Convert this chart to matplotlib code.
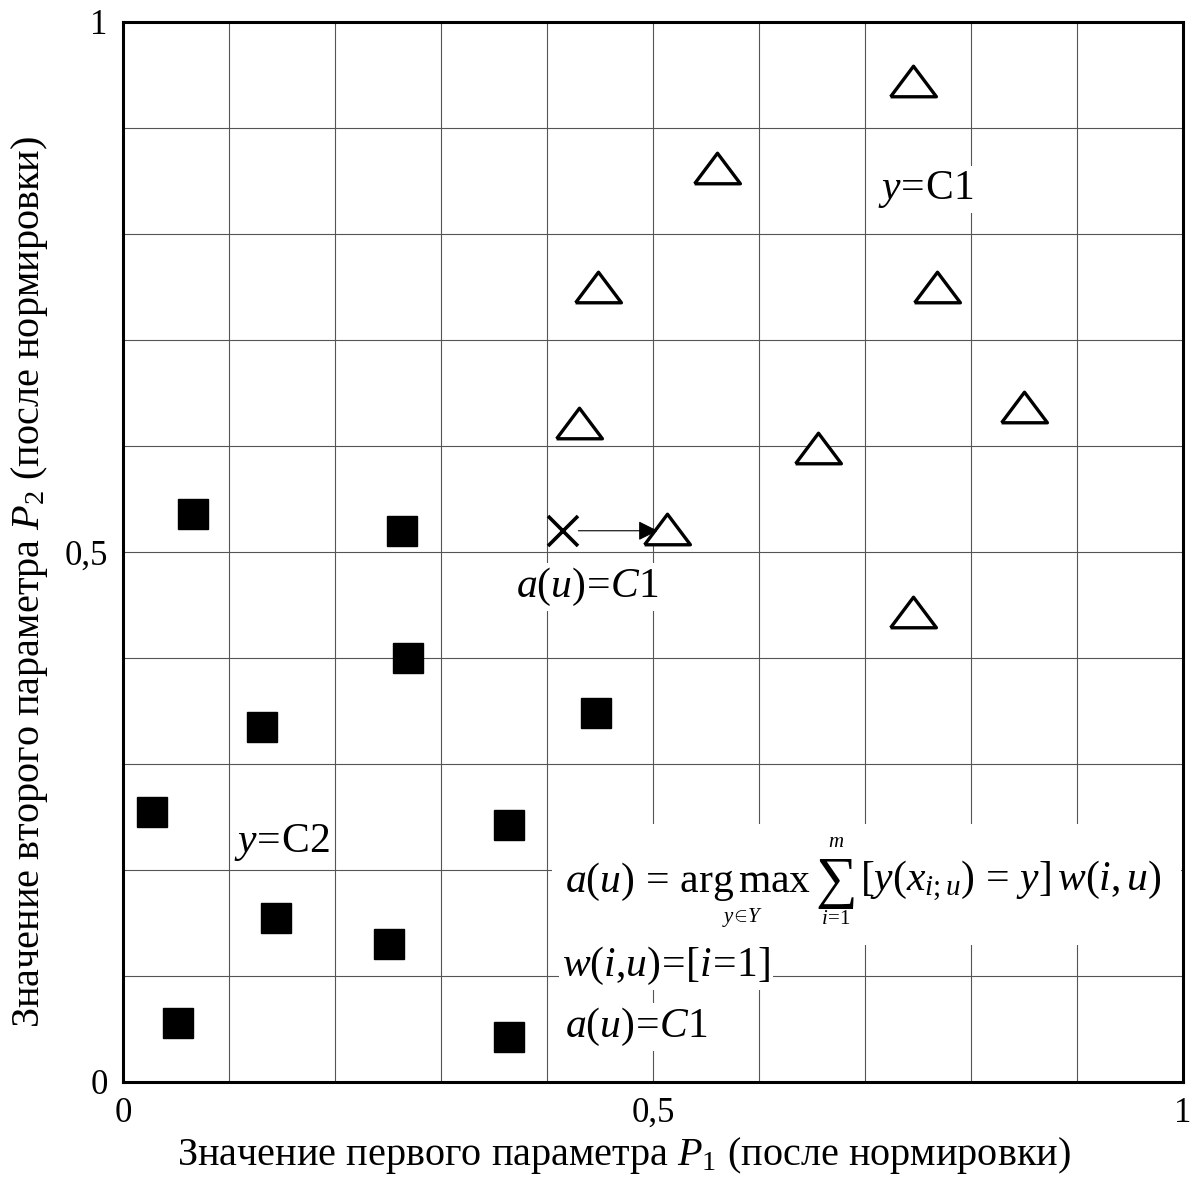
import matplotlib.pyplot as plt
from matplotlib.patches import Rectangle

plt.rcParams['font.family'] = ['Liberation Serif', 'DejaVu Serif']
plt.rcParams['mathtext.fontset'] = 'custom'
plt.rcParams['mathtext.rm'] = 'Liberation Serif'
plt.rcParams['mathtext.it'] = 'Liberation Serif:italic'
plt.rcParams['mathtext.bf'] = 'Liberation Serif:bold'

# class C2 (squares)
c2_x = [0.066, 0.263, 0.269, 0.131, 0.446, 0.027, 0.364, 0.144, 0.251, 0.052, 0.364]
c2_y = [0.536, 0.520, 0.400, 0.335, 0.348, 0.255, 0.242, 0.155, 0.130, 0.056, 0.042]

# class C1 (triangles)
c1_x = [0.745, 0.560, 0.448, 0.768, 0.430, 0.850, 0.656, 0.513, 0.745]
c1_y = [0.944, 0.862, 0.750, 0.750, 0.622, 0.637, 0.598, 0.522, 0.443]

# classified object u and its nearest neighbour
u_x, u_y = 0.415, 0.520
nn_x, nn_y = 0.507, 0.520

ticks = [0, 0.5, 1]
tick_labels = ['0', '0,5', '1']

fig = plt.figure(figsize=(11.93, 11.80), dpi=100)
ax = fig.add_axes([0.1031, 0.0831, 0.8885, 0.8983])

ax.set_xlim(0, 1)
ax.set_ylim(0, 1)
for v in [i / 10 for i in range(1, 10)]:
    ax.axvline(v, color='#555555', lw=0.8, zorder=0)
    ax.axhline(v, color='#555555', lw=0.8, zorder=0)

for s in ax.spines.values():
    s.set_linewidth(2.2)

ax.set_xticks(ticks)
ax.set_xticklabels(tick_labels)
ax.set_yticks(ticks)
ax.set_yticklabels(tick_labels)
ax.tick_params(length=0, labelsize=25, pad=11)

tri = [(-1.5, -1), (1.5, -1), (0, 1), (-1.5, -1)]
ax.plot(c2_x, c2_y, 's', color='black', ms=21, zorder=3)
ax.plot(c1_x, c1_y, ls='none', marker=tri, ms=33, mfc='white', mec='black',
        mew=2.4, zorder=3)
ax.plot(u_x, u_y, 'x', color='black', ms=22, mew=2.6, zorder=3)
ax.annotate('', xy=(nn_x, nn_y), xytext=(u_x + 0.012, u_y),
            arrowprops=dict(arrowstyle='-|>', color='black', lw=0.8,
                            mutation_scale=30), zorder=4)

box = dict(facecolor='white', edgecolor='none', pad=2)
ax.text(0.757, 0.842, r'$y\!=\!\mathrm{C1}$', fontsize=30, ha='center', va='center',
        bbox=box, zorder=2)
ax.text(0.150, 0.226, r'$y\!=\!\mathrm{C2}$', fontsize=30, ha='center', va='center',
        bbox=box, zorder=2)
ax.text(0.438, 0.467, r'$a(u)\!=\!C1$', fontsize=30, ha='center', va='center',
        bbox=box, zorder=2)

# formula block (white background hides the grid)
ax.add_patch(Rectangle((0.405, 0.129), 0.593, 0.114, facecolor='white',
                       edgecolor='none', zorder=1))
ax.text(0.417, 0.189, r'$a(u)\,=\,\mathrm{arg\,max}$', fontsize=30,
        ha='left', va='center', zorder=2)
ax.text(0.585, 0.155, r'$y\!\in\! Y$', fontsize=15, ha='center', va='center', zorder=2)
ax.text(0.673, 0.188, '\u2211', fontsize=42, ha='center', va='center', zorder=2)
ax.text(0.673, 0.226, r'$m$', fontsize=15, ha='center', va='center', zorder=2)
ax.text(0.673, 0.153, r'$i\!=\!1$', fontsize=15, ha='center', va='center', zorder=2)
ax.text(0.695, 0.189, r'$[y(x_{i;u})\,=\,y]\,w(i,u)$', fontsize=30,
        ha='left', va='center', zorder=2)

ax.text(0.414, 0.109, r'$w(i{,}u)\!=\![i\!=\!1]$', fontsize=30, ha='left',
        va='center', bbox=box, zorder=2)
ax.text(0.417, 0.052, r'$a(u)\!=\!C1$', fontsize=30, ha='left', va='center',
        bbox=box, zorder=2)

fig.text(624 / 1193, 1 - 1156 / 1180,
         r'Значение первого параметра $P_1$ (после нормировки)',
         fontsize=29, ha='center', va='center')
fig.text(30 / 1193, 1 - 582 / 1180,
         r'Значение второго параметра $P_2$ (после нормировки)',
         fontsize=29, ha='center', va='center', rotation=90)

plt.savefig('out.png', dpi=100)
